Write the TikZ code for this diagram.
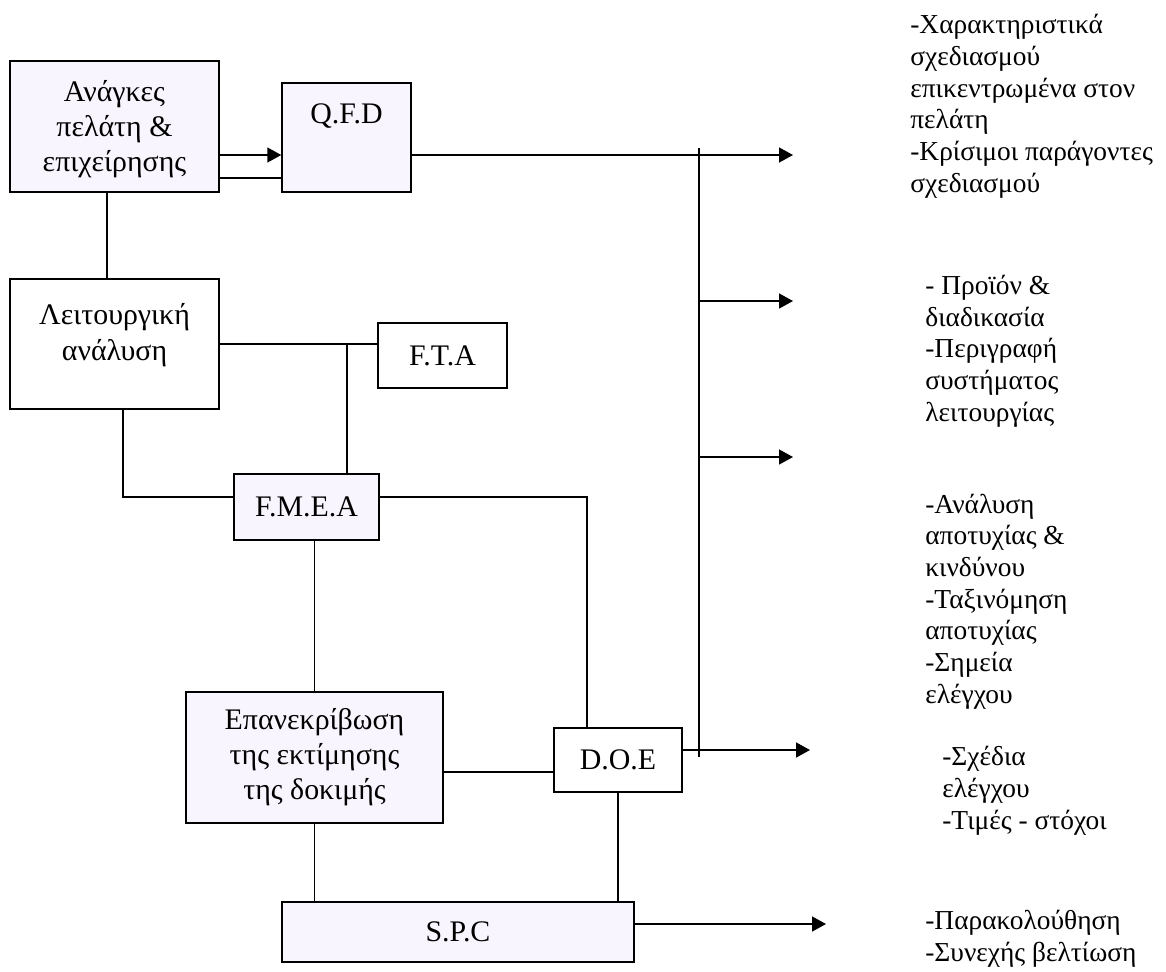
\documentclass[tikz,border=0pt]{standalone}
\usepackage{fontspec}
\setmainfont{Liberation Serif}
\usetikzlibrary{positioning}
\usetikzlibrary{arrows.meta}
\definecolor{boxfill}{RGB}{249,245,254}

\tikzset{
  block/.style={draw, line width=0.85pt, inner sep=0pt, align=center, font=\fontsize{17}{20}\selectfont},
  blockfill/.style={block, fill=boxfill},
  link/.style={line width=0.85pt},
  flow/.style={link, -{Triangle[length=0.28cm,width=0.3cm]}},
  result/.style={anchor=base west, align=left, inner sep=0pt, font=\fontsize{15.6}{18}\selectfont}
}

\begin{document}
\begin{tikzpicture}[x=0.02cm, y=-0.02cm]
	\useasboundingbox (0,0) rectangle (1166,971);
	% boxes
	\node[blockfill, minimum width=4.18cm, text height=2.22cm, text depth=0.4cm] (needs) at (114.5,126.5) {Ανάγκες\\πελάτη \&\\επιχείρησης};
	\node[blockfill, minimum width=2.58cm, text height=0.8cm, text depth=1.38cm] (qfd) at (346.5,137.5) {Q.F.D};
	\node[block, minimum width=4.18cm, text height=1.62cm, text depth=0.98cm] (func) at (114.5,344) {Λειτουργική\\ανάλυση};
	\node[block, minimum width=2.58cm, minimum height=1.3cm] (fta) at (442.5,355.5) {F.T.A};
	\node[blockfill, minimum width=2.9cm, minimum height=1.32cm] (fmea) at (306.5,507) {F.M.E.A};
	\node[blockfill, minimum width=5.14cm, minimum height=2.62cm] (conf) at (314.5,757.5) {Επανεκρίβωση\\της εκτίμησης\\της δοκιμής};
	\node[block, minimum width=2.56cm, minimum height=1.28cm] (doe) at (618,760) {D.O.E};
	\node[blockfill, minimum width=7.04cm, minimum height=1.2cm] (spc) at (458,932) {S.P.C};
	% outputs
	\coordinate (bustop) at (699,148);
	\coordinate (busbot) at (699,757);
	\coordinate (o1) at (793,155);
	\coordinate (o2) at (793,301);
	\coordinate (o3) at (793,457);
	\coordinate (o4) at (810,750);
	\coordinate (o5) at (826,924);
	\draw[flow] (needs.east |- 0,155) -- (qfd.west |- 0,155);
	\draw[link] (needs.east |- 0,178) -- (qfd.west |- 0,178);
	\draw[flow] (qfd.east |- o1) -- (o1);
	\draw[link] (bustop) -- (busbot);
	\foreach \o in {o2,o3} {
		\draw[flow] (bustop |- \o) -- (\o);
	}
	\draw[flow] (doe.east |- o4) -- (o4);
	\draw[flow] (spc.east |- o5) -- (o5);
	% links between boxes
	\draw[link] (needs.south -| 107,0) -- (func.north -| 107,0);
	\draw[link] (func.east) -- (func.east -| fta.west);
	\draw[link] (func.east -| 347,0) -- (fmea.north -| 347,0);
	\draw[link] (func.south -| 123,0) |- (fmea.west |- 0,497);
	\draw[link] (fmea.east |- 0,497) -| (doe.north -| 587,0);
	\draw[link] (fmea.south -| conf.north) -- (conf.north);
	\draw[link] (conf.east |- 0,772) -- (doe.west |- 0,772);
	\draw[link] (conf.south) -- (conf.south |- spc.north);
	\draw[link] (doe.south) -- (doe.south |- spc.north);
	% texts (anchored at the baseline of the last line)
	\node[result] (r1) at (910,192) {-Χαρακτηριστικά\\σχεδιασμού\\επικεντρωμένα στον\\πελάτη\\-Κρίσιμοι παράγοντες\\σχεδιασμού};
	\node[result] (r2) at (925,421) {- Προϊόν \&\\διαδικασία\\-Περιγραφή\\συστήματος\\λειτουργίας};
	\node[result] (r3) at (925,703) {-Ανάλυση\\αποτυχίας \&\\κινδύνου\\-Ταξινόμηση\\αποτυχίας\\-Σημεία\\ελέγχου};
	\node[result] (r4) at (942,829) {-Σχέδια\\ελέγχου\\-Τιμές - στόχοι};
	\node[result] (r5) at (925,961) {-Παρακολούθηση\\-Συνεχής βελτίωση};
\end{tikzpicture}
\end{document}
